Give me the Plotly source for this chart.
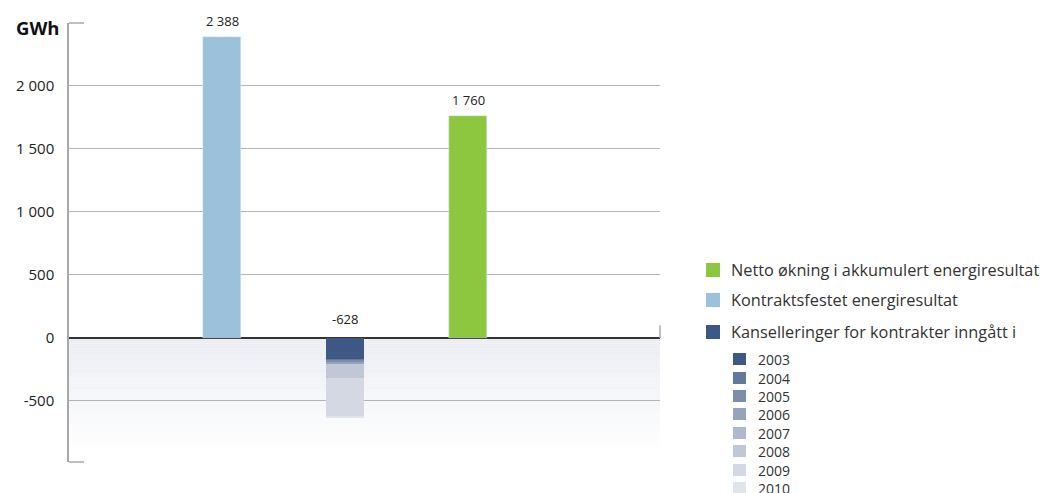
import plotly.graph_objects as go

# Categories along the x axis (no tick labels shown)
categories = ["Kontraktsfestet", "Kanselleringer", "Netto"]

contracted_value = 2388
net_value = 1760

# Cancellations split by the year the contract was signed
cancel_years = ["2003", "2004", "2005", "2006", "2007", "2008", "2009", "2010"]
cancel_values = [-173, -8, -10, -16, 0, -112, -301, -8]
cancel_colors = ["#3e5886", "#64789e", "#7e8dac", "#97a3bc",
                 "#b0b9cc", "#c0c7d6", "#d3d8e2", "#e0e4eb"]

y_ticks = [-500, 0, 500, 1000, 1500, 2000]

GREEN = "#8dc63f"
LIGHT_BLUE = "#9bc2da"
DARK_BLUE = "#3e5886"
FONT = "Open Sans"
TEXT = "#222222"


def fmt(v):
    s = f"{abs(v):,}".replace(",", " ")
    return ("-" if v < 0 else "") + s


W, H = 1050, 493
L, R, T, B = 69, 390, 23, 31
PW, PH = W - L - R, H - T - B


def px(x):
    return (x - L) / PW


def py(y):
    return (H - B - y) / PH


fig = go.Figure()

fig.add_trace(go.Bar(x=[categories[0]], y=[contracted_value], marker_color=LIGHT_BLUE,
                     width=0.31, showlegend=False, hoverinfo="y"))
for yr, v, c in zip(cancel_years, cancel_values, cancel_colors):
    fig.add_trace(go.Bar(x=[categories[1]], y=[v], marker_color=c, width=0.31,
                         name=yr, showlegend=False, marker_line_width=0))
fig.add_trace(go.Bar(x=[categories[2]], y=[net_value], marker_color=GREEN,
                     width=0.31, showlegend=False, hoverinfo="y"))

cancel_total = sum(cancel_values)

# value labels above the bars
for cat, val, ybase in [(categories[0], contracted_value, contracted_value),
                        (categories[1], cancel_total, 0),
                        (categories[2], net_value, net_value)]:
    fig.add_annotation(x=cat, y=ybase, text=fmt(val), showarrow=False,
                       yanchor="bottom", yshift=5 if ybase else 8,
                       font=dict(family=FONT, size=13, color=TEXT))

shapes = []
# soft shading below the zero line
steps = 60
top_c = (234, 236, 242)
for i in range(steps):
    f = i / steps
    col = tuple(round(top_c[k] + (255 - top_c[k]) * f) for k in range(3))
    shapes.append(dict(type="rect", xref="paper", yref="y", x0=0, x1=1,
                       y0=-900 * i / steps, y1=-900 * (i + 1) / steps,
                       fillcolor=f"rgb{col}", line_width=0, layer="below"))
# axis end caps and right edge tick
shapes.append(dict(type="line", xref="paper", yref="paper", x0=0, x1=px(84), y0=1, y1=1,
                   line=dict(color="#a8a8a8", width=1.5)))
shapes.append(dict(type="line", xref="paper", yref="paper", x0=0, x1=px(84), y0=0, y1=0,
                   line=dict(color="#a8a8a8", width=1.5)))
shapes.append(dict(type="line", xref="paper", yref="y", x0=1, x1=1, y0=0, y1=100,
                   line=dict(color="#a8a8a8", width=1.5)))

# legend
legend_main = [("Netto økning i akkumulert energiresultat", GREEN, 270),
               ("Kontraktsfestet energiresultat", LIGHT_BLUE, 300),
               ("Kanselleringer for kontrakter inngått i", DARK_BLUE, 332)]
for label, col, yc in legend_main:
    shapes.append(dict(type="rect", xref="paper", yref="paper",
                       x0=px(706), x1=px(720), y0=py(yc + 7), y1=py(yc - 7),
                       fillcolor=col, line_width=0))
    fig.add_annotation(xref="paper", yref="paper", x=px(729), y=py(yc), text=label,
                       showarrow=False, xanchor="left", yanchor="middle",
                       font=dict(family=FONT, size=16.3, color="#333333"))

year_y = [359, 378, 396, 414, 433, 451, 470, 488]
for yr, col, yc in zip(cancel_years, cancel_colors, year_y):
    shapes.append(dict(type="rect", xref="paper", yref="paper",
                       x0=px(733), x1=px(746), y0=py(yc + 6), y1=py(yc - 6),
                       fillcolor=col, line_width=0))
    fig.add_annotation(xref="paper", yref="paper", x=px(756), y=py(yc), text=yr,
                       showarrow=False, xanchor="left", yanchor="middle",
                       font=dict(family=FONT, size=14, color="#333333"))

fig.add_annotation(xref="paper", yref="paper", x=px(61), y=py(28), text="<b>GWh</b>",
                   showarrow=False, xanchor="right", yanchor="middle",
                   font=dict(family=FONT, size=18.5, color="#111111"))

fig.update_layout(
    width=W, height=H,
    margin=dict(l=L, r=R, t=T, b=B, pad=0),
    paper_bgcolor="white", plot_bgcolor="rgba(0,0,0,0)",
    barmode="relative", bargap=0,
    shapes=shapes,
    showlegend=False,
    font=dict(family=FONT, color=TEXT),
)
fig.update_xaxes(range=[-1.244, 3.56], showticklabels=False, showgrid=False,
                 zeroline=False, showline=False, fixedrange=True)
fig.update_yaxes(range=[-985, 2500], tickvals=y_ticks, ticktext=[fmt(v) for v in y_ticks],
                 showgrid=True, gridcolor="#b4b4b4", gridwidth=1,
                 zeroline=True, zerolinecolor="#333333", zerolinewidth=1.5,
                 showline=True, linecolor="#a8a8a8", linewidth=1.5,
                 ticks="", ticklabelstandoff=10,
                 tickfont=dict(family=FONT, size=15, color=TEXT))

fig.write_html("out.html")
